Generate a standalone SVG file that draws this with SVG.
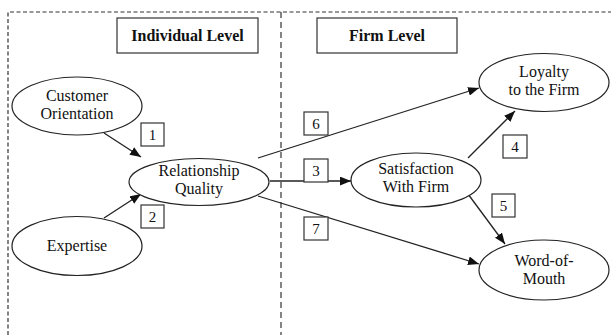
<svg xmlns="http://www.w3.org/2000/svg" width="611" height="335" viewBox="0 0 611 335" font-family="'Liberation Serif', 'DejaVu Serif', serif">
<style>
.frame{fill:none;stroke:#333;stroke-width:1.2;stroke-dasharray:4,2.5}
.divider{fill:none;stroke:#333;stroke-width:1.2;stroke-dasharray:6,4}
.node{fill:#fff;stroke:#222;stroke-width:1.2}
.lbl{fill:#fff;stroke:#333;stroke-width:1.2}
.t{font-size:16px;fill:#111;text-anchor:middle}
.b{font-weight:bold}
.n{font-size:15px}
.edge{fill:none;stroke:#222;stroke-width:1.3}
</style>
<defs>
<marker id="arr" viewBox="0 0 10 8" refX="10" refY="4" markerWidth="11" markerHeight="9" markerUnits="userSpaceOnUse" orient="auto">
<path d="M0,0 L10,4 L0,8 Z" fill="#111"/>
</marker>
</defs>
<g id="frame">
<path class="frame" d="M8,335 V12 H611"/>
<path class="divider" d="M281,12 V335"/>
</g>
<g id="individual-level">
<rect class="lbl" x="117" y="18" width="141" height="35"/>
<text class="t b" x="187.5" y="41">Individual Level</text>
</g>
<g id="firm-level">
<rect class="lbl" x="317" y="18" width="140" height="35"/>
<text class="t b" x="387" y="41">Firm Level</text>
</g>
<g id="connectors">
<line class="edge" x1="104" y1="133" x2="141" y2="157" marker-end="url(#arr)"/>
<line class="edge" x1="104" y1="218" x2="141" y2="194" marker-end="url(#arr)"/>
<line class="edge" x1="258" y1="158" x2="479" y2="88" marker-end="url(#arr)"/>
<line class="edge" x1="270" y1="181" x2="351" y2="181" marker-end="url(#arr)"/>
<line class="edge" x1="258" y1="196" x2="479" y2="264" marker-end="url(#arr)"/>
<line class="edge" x1="468" y1="158" x2="515" y2="111" marker-end="url(#arr)"/>
<line class="edge" x1="468" y1="194" x2="505" y2="244" marker-end="url(#arr)"/>
</g>
<g id="customer-orientation">
<ellipse class="node" cx="77" cy="106" rx="65" ry="29"/>
<text class="t" x="77" y="101">Customer</text>
<text class="t" x="77" y="119">Orientation</text>
</g>
<g id="expertise">
<ellipse class="node" cx="77" cy="246" rx="65" ry="29.5"/>
<text class="t" x="77" y="251">Expertise</text>
</g>
<g id="relationship-quality">
<ellipse class="node" cx="199" cy="182" rx="70" ry="23.5"/>
<text class="t" x="199" y="176">Relationship</text>
<text class="t" x="199" y="194">Quality</text>
</g>
<g id="satisfaction">
<ellipse class="node" cx="416" cy="180" rx="65" ry="27"/>
<text class="t" x="416" y="174">Satisfaction</text>
<text class="t" x="416" y="192">With Firm</text>
</g>
<g id="loyalty">
<ellipse class="node" cx="544" cy="82.5" rx="65" ry="29"/>
<text class="t" x="544" y="77">Loyalty</text>
<text class="t" x="544" y="95">to the Firm</text>
</g>
<g id="word-of-mouth">
<ellipse class="node" cx="544" cy="270" rx="65" ry="30"/>
<text class="t" x="544" y="266">Word-of-</text>
<text class="t" x="544" y="284">Mouth</text>
</g>
<g id="label-1"><rect class="lbl" x="141" y="123" width="23" height="23"/><text class="t n" x="152.5" y="140">1</text></g>
<g id="label-2"><rect class="lbl" x="141" y="205" width="23" height="23"/><text class="t n" x="152.5" y="222">2</text></g>
<g id="label-6"><rect class="lbl" x="304" y="112" width="24" height="23"/><text class="t n" x="316" y="129">6</text></g>
<g id="label-3"><rect class="lbl" x="304" y="159" width="24" height="23"/><text class="t n" x="316" y="176">3</text></g>
<g id="label-7"><rect class="lbl" x="304" y="217" width="24" height="23"/><text class="t n" x="316" y="234">7</text></g>
<g id="label-4"><rect class="lbl" x="503" y="135" width="24" height="23"/><text class="t n" x="515" y="152">4</text></g>
<g id="label-5"><rect class="lbl" x="492" y="194" width="23" height="23"/><text class="t n" x="503.5" y="211">5</text></g>
</svg>
